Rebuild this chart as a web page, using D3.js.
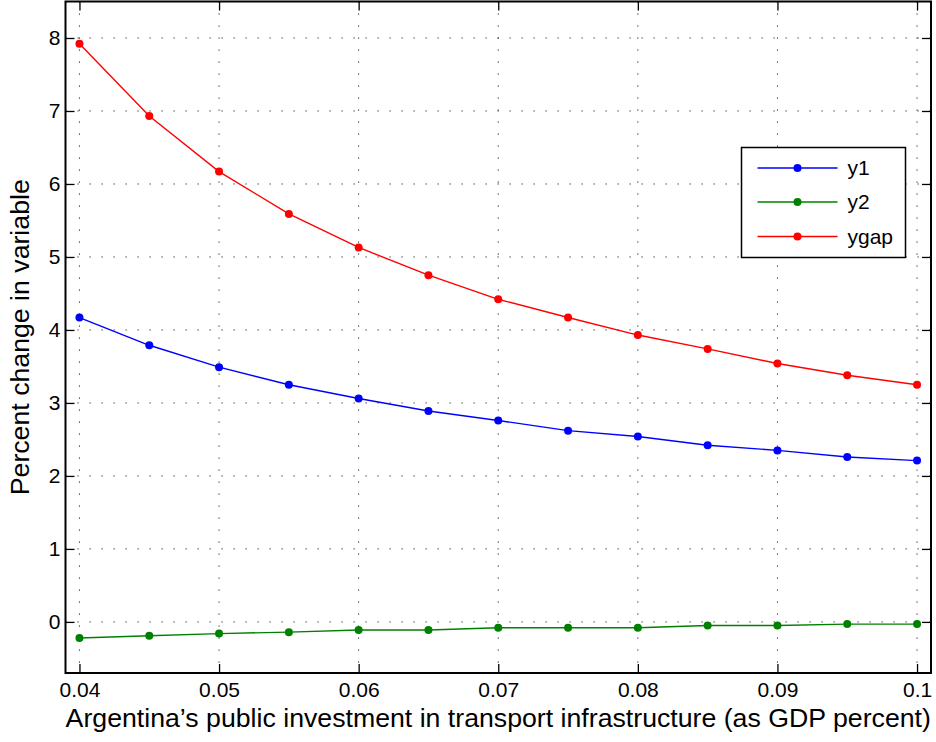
<!DOCTYPE html>
<html>
<head>
<meta charset="utf-8">
<script src="https://cdn.jsdelivr.net/npm/d3@7"></script>
<style>
  body { margin: 0; background: #fff; }
  text { font-family: "Liberation Sans", Arial, sans-serif; fill: #000; }
</style>
</head>
<body>
<div id="chart"></div>
<script>
// Data
var invest = [0.04, 0.045, 0.05, 0.055, 0.06, 0.065, 0.07, 0.075, 0.08, 0.085, 0.09, 0.095, 0.1];
var y1   = [4.17, 3.79, 3.49, 3.25, 3.06, 2.89, 2.76, 2.62, 2.54, 2.42, 2.35, 2.26, 2.21];
var y2   = [-0.22, -0.19, -0.16, -0.14, -0.11, -0.11, -0.08, -0.08, -0.08, -0.05, -0.05, -0.03, -0.03];
var ygap = [7.92, 6.93, 6.17, 5.59, 5.13, 4.75, 4.42, 4.17, 3.93, 3.74, 3.54, 3.38, 3.25];

var seriesNames = ["y1", "y2", "ygap"];
var seriesColors = ["#0000ff", "#008000", "#ff0000"];
var xTicks = [0.04, 0.05, 0.06, 0.07, 0.08, 0.09, 0.1];
var yTicks = [0, 1, 2, 3, 4, 5, 6, 7, 8];

var xLabel = "Argentina\u2019s public investment in transport infrastructure (as GDP percent)";
var yLabel = "Percent change in variable";

var W = 936, H = 742;
var margin = {top: 1.5, right: 5, bottom: 69, left: 65.5};
var width = W - margin.left - margin.right;
var height = H - margin.top - margin.bottom;

var x = d3.scaleLinear().domain([0.039, 0.101]).range([0, width]);
var y = d3.scaleLinear().domain([-0.7, 8.5]).range([height, 0]);

var svg = d3.select("#chart").append("svg")
  .attr("width", W)
  .attr("height", H);

var g = svg.append("g")
  .attr("transform", "translate(" + margin.left + "," + margin.top + ")");

// Grid (dotted)
g.append("g").selectAll("line").data(xTicks).enter().append("line")
  .attr("x1", d => x(d)).attr("x2", d => x(d))
  .attr("y1", 0).attr("y2", height)
  .attr("stroke", "#222").attr("stroke-width", 1)
  .attr("stroke-dasharray", "1.2,10.8");

g.append("g").selectAll("line").data(yTicks).enter().append("line")
  .attr("x1", 0).attr("x2", width)
  .attr("y1", d => y(d)).attr("y2", d => y(d))
  .attr("stroke", "#222").attr("stroke-width", 1)
  .attr("stroke-dasharray", "1.2,10.8");

// Axes (ticks inward, on all four sides)
var tickLen = 9;
var xAxisCall = d3.axisBottom(x).tickValues(xTicks).tickSizeInner(-tickLen).tickSizeOuter(0)
  .tickPadding(9).tickFormat(d => String(+d.toFixed(2)));
var yAxisCall = d3.axisLeft(y).tickValues(yTicks).tickSizeInner(-tickLen).tickSizeOuter(0)
  .tickPadding(5).tickFormat(d3.format("d"));

var xAxis = g.append("g").attr("transform", "translate(0," + height + ")").call(xAxisCall);
var yAxis = g.append("g").call(yAxisCall);
var xTop = g.append("g").call(d3.axisTop(x).tickValues(xTicks).tickSizeInner(-tickLen).tickSizeOuter(0).tickFormat(""));
var yRight = g.append("g").attr("transform", "translate(" + width + ",0)")
  .call(d3.axisRight(y).tickValues(yTicks).tickSizeInner(-tickLen).tickSizeOuter(0).tickFormat(""));

[xAxis, yAxis, xTop, yRight].forEach(a => {
  a.select(".domain").remove();
  a.selectAll(".tick line").attr("stroke", "#000").attr("stroke-width", 1.3);
  a.selectAll(".tick text").attr("font-size", 21).attr("font-family", "Liberation Sans, Arial, sans-serif");
});
xAxis.selectAll(".tick text").attr("dy", "0.71em");

// Box
g.append("rect")
  .attr("x", 0).attr("y", 0)
  .attr("width", width).attr("height", height)
  .attr("fill", "none")
  .attr("stroke", "#000")
  .attr("stroke-width", 2);

// Lines + markers
var allSeries = [y1, y2, ygap];
var line = d3.line()
  .x((d, i) => x(invest[i]))
  .y(d => y(d));

allSeries.forEach((s, k) => {
  g.append("path")
    .attr("d", line(s))
    .attr("fill", "none")
    .attr("stroke", seriesColors[k])
    .attr("stroke-width", 1.4);
  g.append("g").selectAll("circle").data(s).enter().append("circle")
    .attr("cx", (d, i) => x(invest[i]))
    .attr("cy", d => y(d))
    .attr("r", 4)
    .attr("fill", seriesColors[k]);
});

// Legend
var lg = svg.append("g").attr("transform", "translate(741.5,147.5)");
lg.append("rect")
  .attr("width", 164).attr("height", 110)
  .attr("fill", "#fff")
  .attr("stroke", "#000")
  .attr("stroke-width", 1.5);
var rowY = [20.5, 54.5, 89];
seriesNames.forEach((name, k) => {
  lg.append("line")
    .attr("x1", 16).attr("x2", 96)
    .attr("y1", rowY[k]).attr("y2", rowY[k])
    .attr("stroke", seriesColors[k]).attr("stroke-width", 1.4);
  lg.append("circle")
    .attr("cx", 56).attr("cy", rowY[k]).attr("r", 4)
    .attr("fill", seriesColors[k]);
  lg.append("text")
    .attr("x", 106).attr("y", rowY[k])
    .attr("dy", "0.35em")
    .attr("font-size", 21)
    .text(name);
});

// Axis labels
svg.append("text")
  .attr("x", margin.left + width / 2)
  .attr("y", 727)
  .attr("text-anchor", "middle")
  .attr("font-size", 26.7)
  .text(xLabel);

svg.append("text")
  .attr("transform", "translate(29," + (margin.top + height / 2) + ") rotate(-90)")
  .attr("text-anchor", "middle")
  .attr("font-size", 26.7)
  .text(yLabel);
</script>
</body>
</html>
